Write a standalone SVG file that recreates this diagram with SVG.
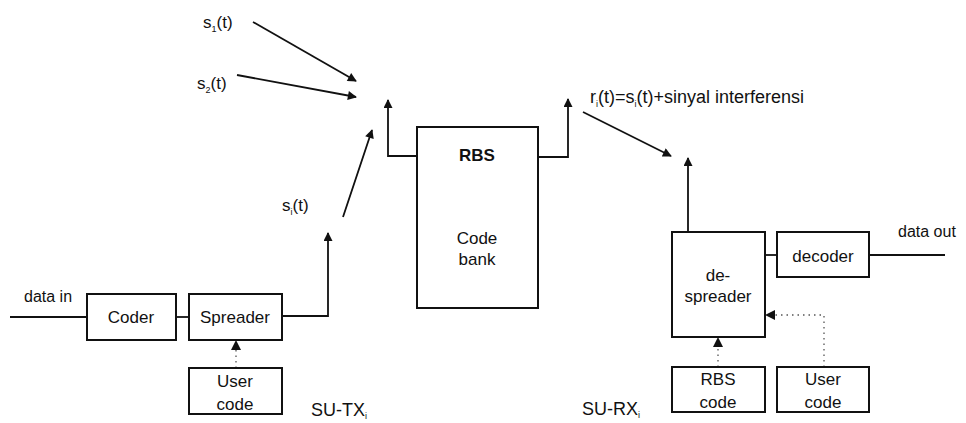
<svg xmlns="http://www.w3.org/2000/svg" width="966" height="423" viewBox="0 0 966 423">
<style>
  .box{fill:#fff;stroke:#111;stroke-width:2}
  .ln{fill:none;stroke:#111;stroke-width:1.8}
  .dot{fill:none;stroke:#555;stroke-width:1.3;stroke-dasharray:1.5 4}
  text{font-family:"Liberation Sans",Arial,sans-serif;fill:#111}
  .t{font-size:17px;text-anchor:middle}
  .s{font-size:17px}
  .sub{font-size:9px}
</style>
<defs>
  <marker id="ah" viewBox="0 0 10 10" refX="9" refY="5" markerWidth="10" markerHeight="9" markerUnits="userSpaceOnUse" orient="auto">
    <path d="M0,0 L10,5 L0,10 z" fill="#111"/>
  </marker>
</defs>
<rect width="966" height="423" fill="#fff"/>

<g id="connectors">
  <line class="ln" x1="253" y1="22" x2="356" y2="81" marker-end="url(#ah)"/>
  <line class="ln" x1="237" y1="75" x2="356" y2="97" marker-end="url(#ah)"/>
  <line class="ln" x1="343" y1="217" x2="372" y2="130" marker-end="url(#ah)"/>
  <polyline class="ln" points="417,156 388,156 388,100" marker-end="url(#ah)"/>
  <polyline class="ln" points="538,157 568,157 568,99" marker-end="url(#ah)"/>
  <line class="ln" x1="583" y1="112" x2="671" y2="156" marker-end="url(#ah)"/>
  <line class="ln" x1="688" y1="232" x2="688" y2="158" marker-end="url(#ah)"/>
  <line class="ln" x1="10" y1="317" x2="87" y2="317"/>
  <line class="ln" x1="176" y1="317" x2="189" y2="317"/>
  <polyline class="ln" points="282,316 328,316 328,233" marker-end="url(#ah)"/>
  <line class="dot" x1="236" y1="368" x2="236" y2="348"/>
  <path d="M231,350 L236,340 L241,350 z" fill="#111"/>
  <line class="ln" x1="765" y1="255" x2="777" y2="255"/>
  <line class="ln" x1="869" y1="255" x2="945" y2="255"/>
  <line class="dot" x1="718" y1="367" x2="718" y2="347"/>
  <path d="M713,347 L718,337 L723,347 z" fill="#111"/>
  <polyline class="dot" points="824,367 824,315 775,315"/>
  <path d="M775,310 L765,315 L775,320 z" fill="#111"/>
</g>

<g id="labels">
  <text class="s" x="203" y="28">s<tspan class="sub" dy="4">1</tspan><tspan dy="-4">(t)</tspan></text>
  <text class="s" x="197" y="89">s<tspan class="sub" dy="4">2</tspan><tspan dy="-4">(t)</tspan></text>
  <text class="s" x="282" y="211">s<tspan class="sub" dy="4">i</tspan><tspan dy="-4">(t)</tspan></text>
  <text x="24" y="302" style="font-size:16px">data in</text>
  <text style="font-size:18px" x="590" y="103">r<tspan class="sub" dy="4">i</tspan><tspan dy="-4">(t)=s</tspan><tspan class="sub" dy="4">i</tspan><tspan dy="-4">(t)+sinyal interferensi</tspan></text>
  <text style="font-size:16px" x="898" y="237">data out</text>
  <text style="font-size:18px" x="311" y="416">SU-TX<tspan class="sub" dy="3">i</tspan></text>
  <text style="font-size:18px" x="582" y="415">SU-RX<tspan class="sub" dy="3">i</tspan></text>
</g>

<g id="coder">
  <rect class="box" x="87" y="294" width="89" height="46"/>
  <text class="t" x="131" y="323">Coder</text>
</g>
<g id="spreader">
  <rect class="box" x="189" y="294" width="93" height="46"/>
  <text class="t" x="235" y="323">Spreader</text>
</g>
<g id="user-code-tx">
  <rect class="box" x="189" y="368" width="93" height="46"/>
  <text class="t" x="235" y="387">User</text>
  <text class="t" x="235" y="410">code</text>
</g>
<g id="rbs">
  <rect class="box" x="417" y="127" width="121" height="181"/>
  <text class="t" x="477" y="161" style="font-weight:bold">RBS</text>
  <text class="t" x="477" y="244">Code</text>
  <text class="t" x="477" y="265">bank</text>
</g>
<g id="despreader">
  <rect class="box" x="672" y="232" width="93" height="105"/>
  <text class="t" x="718" y="281">de-</text>
  <text class="t" x="718" y="302">spreader</text>
</g>
<g id="decoder">
  <rect class="box" x="777" y="232" width="92" height="45"/>
  <text class="t" x="823" y="262">decoder</text>
</g>
<g id="rbs-code">
  <rect class="box" x="672" y="367" width="93" height="45"/>
  <text class="t" x="718" y="385">RBS</text>
  <text class="t" x="718" y="408">code</text>
</g>
<g id="user-code-rx">
  <rect class="box" x="777" y="367" width="92" height="45"/>
  <text class="t" x="823" y="385">User</text>
  <text class="t" x="823" y="408">code</text>
</g>
</svg>
